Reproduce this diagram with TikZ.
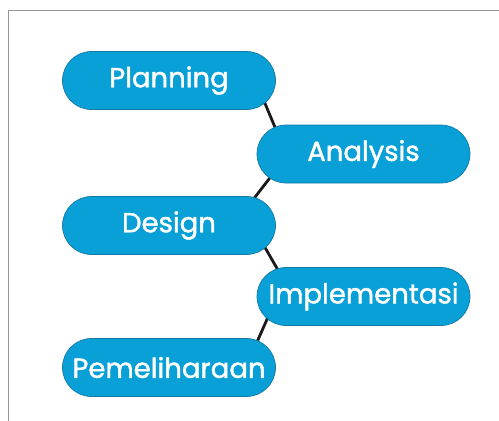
\documentclass[tikz,border=0pt]{standalone}
\usepackage{fontspec}
\setmainfont{Poppins}[FakeBold=1.4]
\usetikzlibrary{calc,backgrounds}
\definecolor{boxblue}{RGB}{8,160,214}
\definecolor{boxedge}{RGB}{20,120,165}
\definecolor{frame}{RGB}{150,150,150}
\tikzset{
  stage/.style={draw=boxedge, line width=0.7pt, fill=boxblue, rounded corners=29pt,
    minimum width=213pt, minimum height=58pt, inner sep=0pt, text=white,
    font=\fontsize{27.5}{30}\selectfont},
  link/.style={line width=2.8pt, draw=black!90}
}
\begin{document}
\begin{tikzpicture}[x=1pt,y=-1pt]
\useasboundingbox (0,0) rectangle (499,421);
\draw[frame, line width=1pt] (499,10) -- (8,10) -- (8,421);
\node[stage] (plan) at (169,80.5) {Planning};
\node[stage] (anal) at (363.5,154) {Analysis};
\node[stage] (des) at (169,225.5) {Design};
\node[stage] (impl) at (363.5,296.5) {Implementasi};
\node[stage] (pem) at (169,367.5) {Pemeliharaan};
\begin{scope}[on background layer]
\draw[link] ($(plan.south east)+(-14,-14)$) -- ($(anal.north west)+(21,9)$);
\draw[link] ($(anal.south west)+(19,-13)$) -- ($(des.north east)+(-27,9)$);
\draw[link] ($(des.south east)+(-17,-18)$) -- ($(impl.north west)+(26,11)$);
\draw[link] ($(impl.south west)+(15,-17)$) -- ($(pem.north east)+(-22,11)$);
\end{scope}
\end{tikzpicture}
\end{document}
